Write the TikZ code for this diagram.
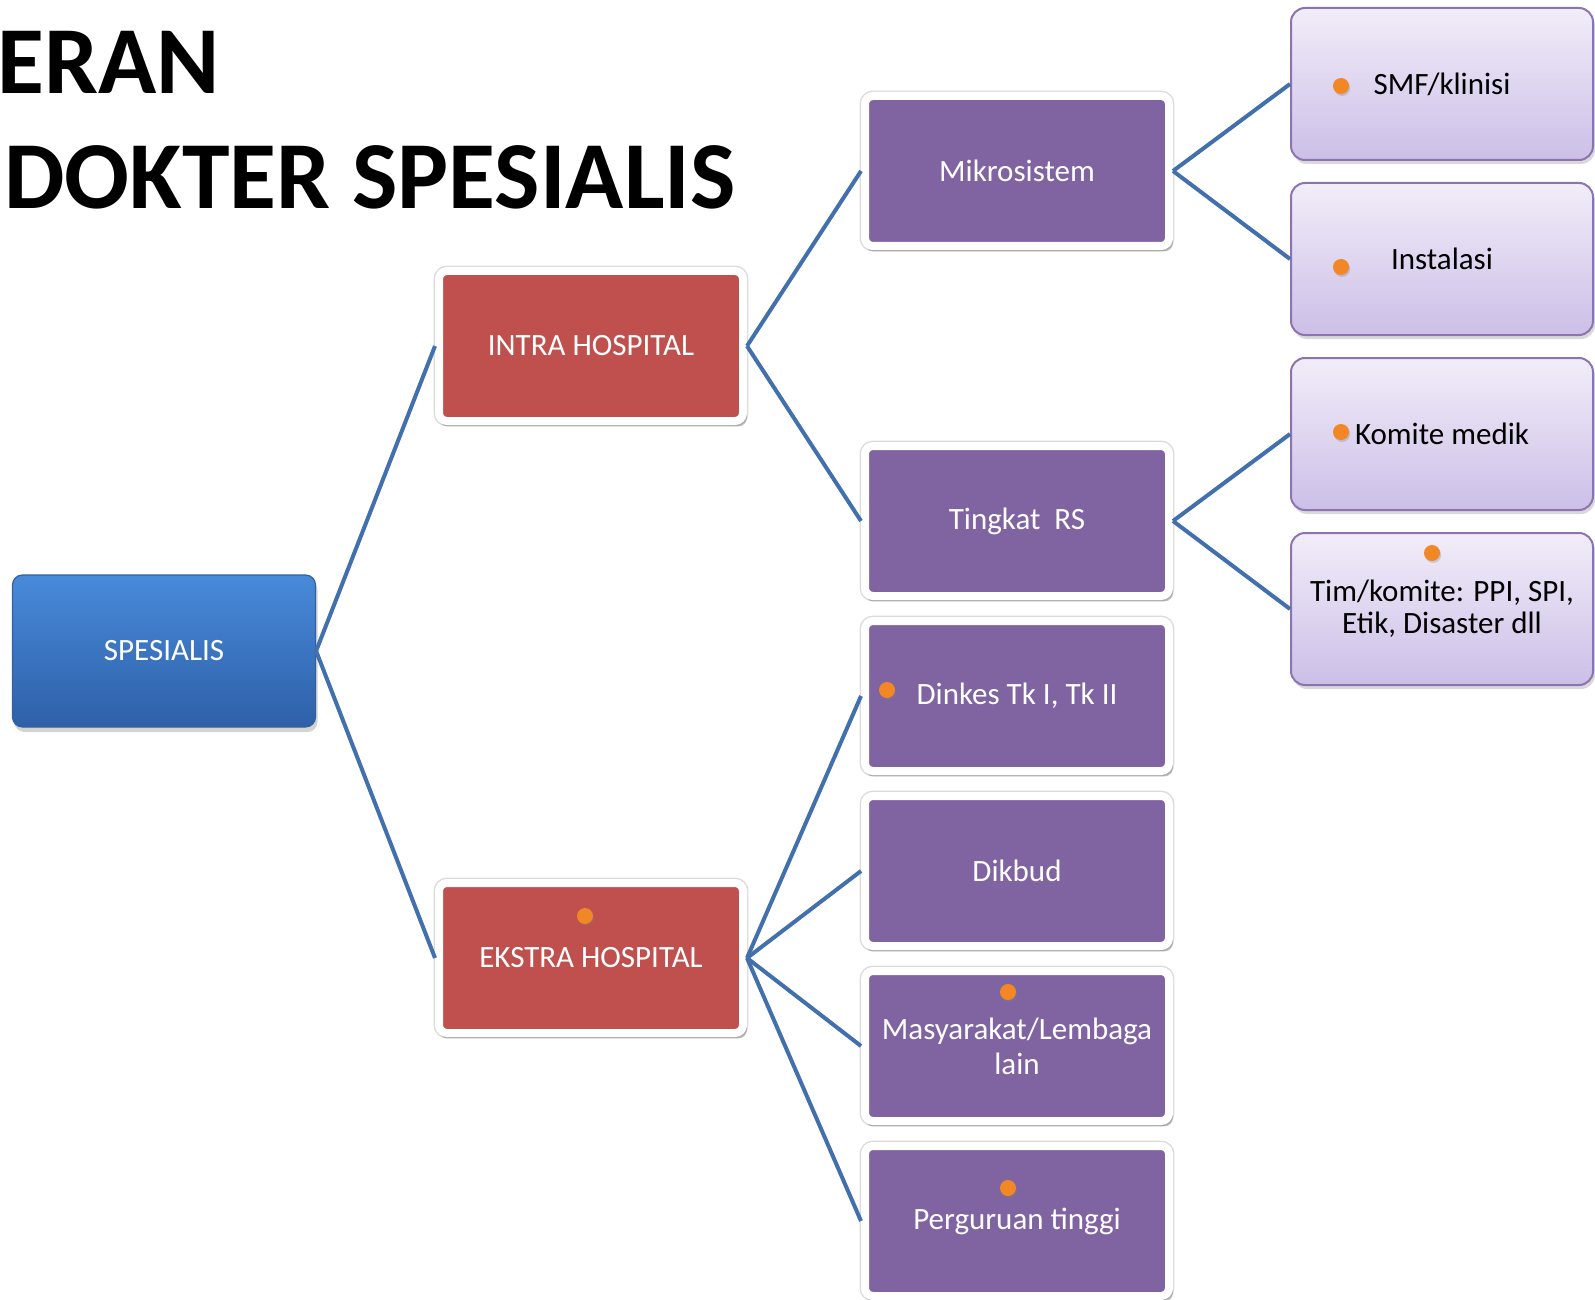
\documentclass[tikz,border=0pt]{standalone}
\usepackage{fontspec}
\setmainfont{Carlito}
\usepackage{xcolor}
\definecolor{rootblue1}{RGB}{72,138,218}
\definecolor{rootblue2}{RGB}{46,96,168}
\definecolor{rootedge}{RGB}{52,96,156}
\definecolor{hospred}{RGB}{192,80,77}
\definecolor{unitpurple}{RGB}{128,100,162}
\definecolor{leaftop}{RGB}{242,237,249}
\definecolor{leafbot}{RGB}{204,191,231}
\definecolor{leafedge}{RGB}{140,115,178}
\definecolor{linkblue}{RGB}{66,112,172}
\definecolor{dotorange}{RGB}{242,135,38}
\usetikzlibrary{positioning,shadows}
\tikzset{
  sp_title/.style={inner sep=0pt,
    font=\fontsize{48}{54}\selectfont\bfseries},
  sp_root/.style={rectangle,rounded corners=5pt,
    draw=rootedge,line width=0.6pt,
    top color=rootblue1,bottom color=rootblue2,
    minimum width=151.5pt,minimum height=76pt,outer sep=auto,
    text=white,font=\fontsize{15.5}{17}\selectfont,
    drop shadow={opacity=0.35,shadow xshift=1pt,shadow yshift=-2.5pt}},
  sp_hosp/.style={rectangle,rounded corners=4pt,
    draw=white,line width=4pt,fill=hospred,
    minimum width=152pt,minimum height=75pt,outer sep=auto,
    text=white,align=center,font=\fontsize{15.5}{17.5}\selectfont,
    preaction={draw=black!14,line width=5.4pt},
    general shadow={fill=black,opacity=0.22,shadow scale=1.012,
      shadow xshift=1pt,shadow yshift=-2.2pt}},
  sp_unit/.style={sp_hosp,fill=unitpurple},
  sp_leaf/.style={rectangle,rounded corners=7pt,
    draw=leafedge,line width=1pt,
    top color=leaftop,bottom color=leafbot,
    minimum width=151pt,minimum height=76pt,outer sep=auto,
    align=center,font=\fontsize{15.5}{16}\selectfont,
    drop shadow={opacity=0.3,shadow xshift=1pt,shadow yshift=-2pt}},
  sp_dot/.style={circle,fill=dotorange,inner sep=0pt,minimum size=8pt,
    drop shadow={opacity=0.3,shadow xshift=0.6pt,shadow yshift=-1pt}},
  sp_link/.style={draw=linkblue,line width=2pt},
}
\begin{document}
\begin{tikzpicture}[x=0.5pt,y=-0.5pt]
  \useasboundingbox (0,0) rectangle (1595,1300);
  % title
  \node (title_a) [sp_title,anchor=base west] at (-3,94) {ERAN};
  \node (title_b) [sp_title,anchor=base west] at (4,209) {DOKTER SPESIALIS};
  % root and hospital level
  \node (spes) [sp_root] at (164,651) {SPESIALIS};
  \node (intra) [sp_hosp] at (591,346) {INTRA HOSPITAL};
  \node (ekstra) [sp_hosp] at (591,958) {EKSTRA HOSPITAL};
  % units
  \node (mikro) [sp_unit] at (1017,171) {Mikrosistem};
  \node (tingkat) [sp_unit,below=96pt of mikro] {Tingkat\ \ RS};
  \node (dinkes) [sp_unit,below=8.5pt of tingkat] {Dinkes Tk I, Tk II};
  \node (dikbud) [sp_unit,below=8.5pt of dinkes] {Dikbud};
  \node (masy) [sp_unit,below=8.5pt of dikbud] {Masyarakat/Lembaga\\lain};
  \node (pergu) [sp_unit,below=8.5pt of masy] {Perguruan tinggi};
  % leaves
  \node (smf) [sp_leaf] at (1442,84) {SMF/klinisi};
  \node (inst) [sp_leaf,below=10.5pt of smf] {Instalasi};
  \node (komite) [sp_leaf,below=10.5pt of inst] {Komite medik};
  \node (tim) [sp_leaf,below=10.5pt of komite] {Tim/komite: PPI, SPI,\\Etik, Disaster dll};
  % bullets
  \node (dot_smf) [sp_dot] at (1341,86) {};
  \node (dot_inst) [sp_dot] at (1341,267) {};
  \node (dot_komite) [sp_dot] at (1341,432) {};
  \node (dot_tim) [sp_dot] at (1432,553) {};
  \node (dot_dinkes) [sp_dot] at (887,690) {};
  \node (dot_masy) [sp_dot] at (1008,992) {};
  \node (dot_pergu) [sp_dot] at (1008,1188) {};
  \node (dot_ekstra) [sp_dot] at (585,916) {};

  \draw[sp_link] (spes.east)--(intra.west);
  \draw[sp_link] (spes.east)--(ekstra.west);
  \draw[sp_link] (intra.east)--(mikro.west);
  \draw[sp_link] (intra.east)--(tingkat.west);
  \draw[sp_link] (ekstra.east)--(dinkes.west);
  \draw[sp_link] (ekstra.east)--(dikbud.west);
  \draw[sp_link] (ekstra.east)--(masy.west);
  \draw[sp_link] (ekstra.east)--(pergu.west);
  \draw[sp_link] (mikro.east)--(smf.west);
  \draw[sp_link] (mikro.east)--(inst.west);
  \draw[sp_link] (tingkat.east)--(komite.west);
  \draw[sp_link] (tingkat.east)--(tim.west);
\end{tikzpicture}
\end{document}
